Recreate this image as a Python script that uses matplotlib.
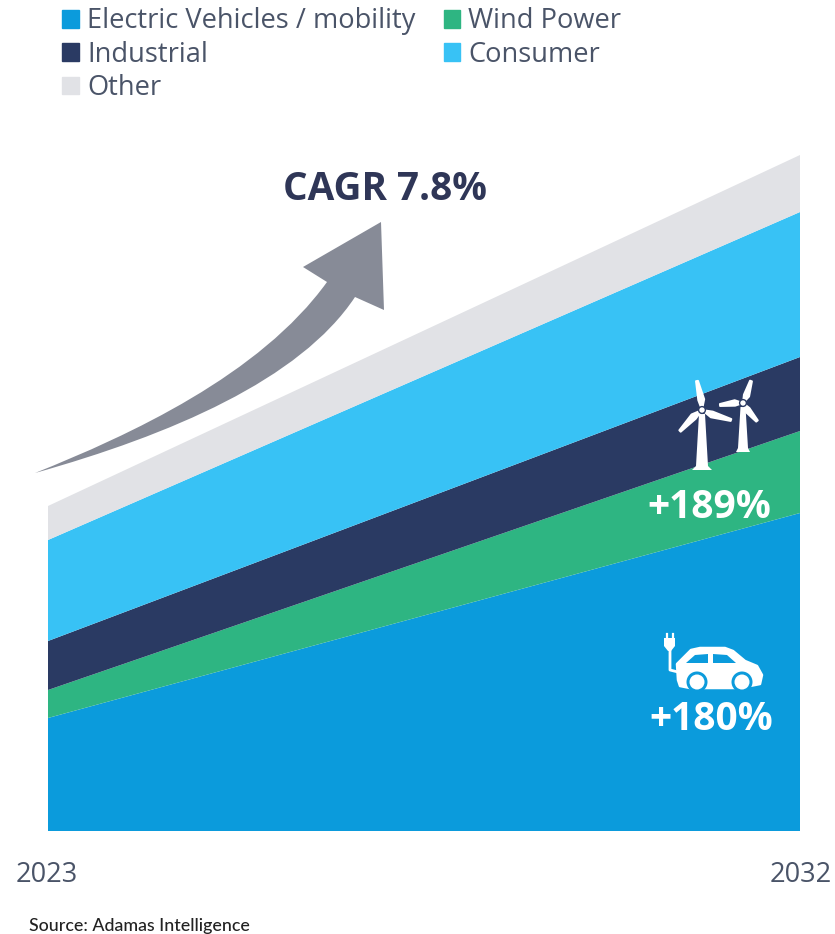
import matplotlib
matplotlib.use("Agg")
import matplotlib.pyplot as plt
from matplotlib.patches import Patch, Polygon, Circle, PathPatch
from matplotlib.path import Path

plt.rcParams['font.family'] = ['Open Sans', 'DejaVu Sans']

years = [2023, 2032]
ev = [113, 318]
wind = [28, 82]
industrial = [49, 74]
consumer = [101, 145]
other = [34, 57]

colors = ['#0b9bdc', '#2eb582', '#2a3a63', '#38c2f5', '#e1e2e6']
labels = ['Electric Vehicles / mobility', 'Wind Power', 'Industrial', 'Consumer', 'Other']
year_color = '#4a5468'
dark = '#2f3657'
arrow_color = '#878b97'

W, H = 835, 934
fig = plt.figure(figsize=(W / 100, H / 100), dpi=100)

# main stacked area, axes box placed on the pixel extent of the picture
ax = fig.add_axes([48 / W, 1 - 831 / H, (800 - 48) / W, (831 - 155) / H])
ax.stackplot(years, ev, wind, industrial, consumer, other, colors=colors, linewidth=0)
ax.set_xlim(2023, 2032)
ax.set_ylim(0, 676)
ax.axis('off')

# overlay in pixel coords for arrow and icons
ov = fig.add_axes([0, 0, 1, 1])
ov.set_xlim(0, W)
ov.set_ylim(H, 0)
ov.axis('off')
ov.patch.set_alpha(0)

verts = [(35, 473), (130, 435), (260, 375), (327, 282),
         (303, 267), (381, 222), (384, 310), (355, 297),
         (300, 380), (170, 435), (35, 473), (35, 473)]
codes = [Path.MOVETO, Path.CURVE4, Path.CURVE4, Path.CURVE4,
         Path.LINETO, Path.LINETO, Path.LINETO, Path.LINETO,
         Path.CURVE4, Path.CURVE4, Path.CURVE4, Path.CLOSEPOLY]
ov.add_patch(PathPatch(Path(verts, codes), fc=arrow_color, ec='none'))


def turbine(hx, hy, base, blades, tw, bw, fw, bladew):
    ov.add_patch(Polygon([(hx - tw, hy + 4), (hx + tw, hy + 4), (hx + bw, base - 4), (hx + fw, base),
                          (hx - fw, base), (hx - bw, base - 4)], fc='white', ec='none'))
    for bx, by in blades:
        dx, dy = bx - hx, by - hy
        n = (dx * dx + dy * dy) ** 0.5
        px, py = -dy / n, dx / n
        mx, my = hx + dx * 0.35, hy + dy * 0.35
        ov.add_patch(Polygon([(hx, hy), (mx + px * bladew, my + py * bladew), (bx + px, by + py), (bx - px, by - py),
                              (mx - px * 2, my - py * 2)], fc='white', ec='white', lw=1.4, joinstyle='round'))
    ov.add_patch(Circle((hx, hy), 3.4, fc='white', ec='#2a3a63', lw=1))


turbine(702, 410, 470, [(697, 381), (731, 420), (680, 431)], 3, 6, 10, 4)
turbine(743, 403, 452, [(751, 381), (720, 405), (757, 421)], 2.5, 5, 7, 3.5)

# car with plug
body = [(678, 680), (677, 664), (691, 650), (700, 648), (725, 648), (733, 651), (745, 661),
        (757, 666), (762, 675), (760, 684), (740, 688), (690, 688), (680, 686)]
ov.add_patch(Polygon(body, fc='white', ec='white', lw=1.8, joinstyle='round'))
ov.add_patch(Polygon([(686, 663), (695, 655), (708, 654), (708, 663)], fc=colors[0], ec='none'))
ov.add_patch(Polygon([(713, 654), (727, 655), (736, 663), (713, 663)], fc=colors[0], ec='none'))
for cx in (697, 742):
    ov.add_patch(Circle((cx, 682), 10.5, fc=colors[0], ec='none'))
    ov.add_patch(Circle((cx, 682), 7.5, fc='white', ec='none'))
ov.plot([670, 670, 678], [648, 670, 672], color='white', lw=2)
ov.add_patch(Polygon([(664, 638), (675, 638), (675, 646), (671, 651), (668, 651), (664, 646)], fc='white', ec='none'))
ov.plot([667, 667], [638, 634], color='white', lw=1.6)
ov.plot([672.5, 672.5], [638, 634], color='white', lw=1.6)

ov.text(385, 189, 'CAGR 7.8%', color=dark, fontsize=27.8, fontweight='bold', ha='center', va='center')
ov.text(709, 507, '+189%', color='white', fontsize=28, fontweight='bold', ha='center', va='center')
ov.text(711, 720, '+180%', color='white', fontsize=28, fontweight='bold', ha='center', va='center')
ov.text(46.5, 875, '2023', color=year_color, fontsize=19.5, ha='center', va='center')
ov.text(801, 875, '2032', color=year_color, fontsize=19.5, ha='center', va='center')
ov.text(29, 926, 'Source: Adamas Intelligence', color='#222222', fontsize=12.8, fontweight='medium',
        family=['Lato', 'DejaVu Sans'], ha='left', va='center')

order = [0, 2, 4, 1, 3]
handles = [Patch(color=colors[i]) for i in order]
fig.legend(handles, [labels[i] for i in order], ncol=2, frameon=False, loc='upper left',
           bbox_to_anchor=(46 / W, 1 + 9 / H), fontsize=19.6, labelcolor=year_color,
           handlelength=0.62, handleheight=0.62, handletextpad=0.29, labelspacing=0.2, columnspacing=1.03,
           borderpad=0.1)

fig.savefig('out.png', dpi=100)
